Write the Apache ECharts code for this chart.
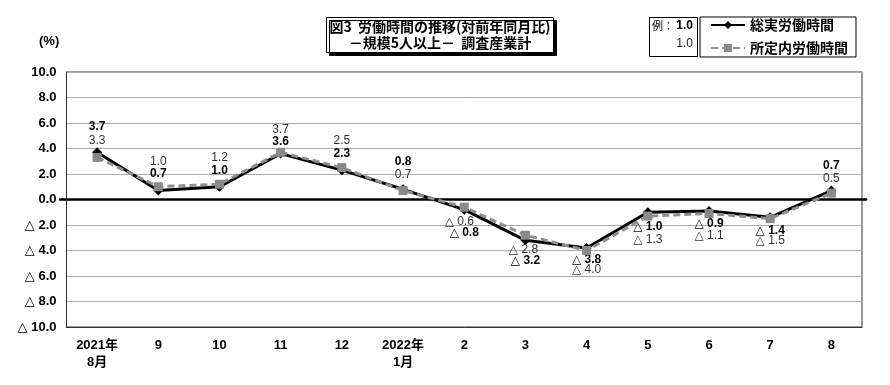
<!DOCTYPE html>
<html><head><meta charset="utf-8">
<script src="https://cdn.jsdelivr.net/npm/echarts@6/dist/echarts.min.js"></script>
<style>html,body{margin:0;padding:0;background:#fff}#c{width:890px;height:385px}</style>
</head><body><div id="c"></div>
<script>
// ---- data ----
const categories = ['2021年\n8月','9','10','11','12','2022年\n1月','2','3','4','5','6','7','8'];
const totalHours = [3.7, 0.7, 1.0, 3.6, 2.3, 0.8, -0.8, -3.2, -3.8, -1.0, -0.9, -1.4, 0.7];
const scheduledHours = [3.3, 1.0, 1.2, 3.7, 2.5, 0.7, -0.6, -2.8, -4.0, -1.3, -1.1, -1.5, 0.5];
const yTicks = [-10, -8, -6, -4, -2, 0, 2, 4, 6, 8, 10];
const seriesNames = ['総実労働時間', '所定内労働時間'];

// ---- label placement (styling) ----
const totalLabelDy = [-26, -17, -16, -12, -16, -28, 23, 20, 12, 14, 13, 13, -25];
const schedLabelDy = [-17, -25, -27, -23, -27, -16, 15, 14, 19, 24, 22, 22, -14];
const schedLabelDx = [0, 0, 0, 0, 0, 0, -5, -2, 0, 0, 0, 0, 0];

const fmt = v => v < 0 ? '△ ' + Math.abs(v).toFixed(1) : v.toFixed(1);
const NUMFONT = "'Liberation Sans Narrow','Liberation Sans','DejaVu Sans','Noto Sans CJK JP',sans-serif";
const JPFONT = "'Noto Sans CJK JP',sans-serif";

const chart = echarts.init(document.getElementById('c'));
chart.setOption({
  animation: false,
  backgroundColor: '#fff',
  title: {
    text: '図3  労働時間の推移(対前年同月比)\n－規模5人以上－  調査産業計',
    left: 437, top: 17,
    textAlign: 'center',
    padding: [2, 3, 2, 3],
    borderColor: '#000', borderWidth: 1,
    backgroundColor: '#fff',
    shadowColor: '#000', shadowBlur: 0, shadowOffsetX: 3, shadowOffsetY: 3,
    textStyle: { fontFamily: JPFONT, fontSize: 14, fontWeight: 'bold', color: '#000', lineHeight: 16 }
  },
  legend: {
    orient: 'vertical', left: 700, top: 17,
    padding: [1, 8, 2, 10],
    itemGap: 9,
    itemWidth: 34, itemHeight: 10,
    borderColor: '#000', borderWidth: 1,
    textStyle: { fontFamily: JPFONT, fontSize: 14, fontWeight: 'bold', color: '#000', lineHeight: 14 },
    data: seriesNames
  },
  graphic: [
    { type: 'rect', left: 649, top: 17, shape: { width: 48, height: 39 }, style: { fill: '#fff', stroke: '#000', lineWidth: 1 } },
    { type: 'text', left: 652, top: 20, style: { text: '例：', font: "11px 'Noto Sans CJK JP'", fill: '#000' } },
    { type: 'text', right: 890 - 693, top: 20, style: { text: '1.0', font: "bold 12px " + NUMFONT, fill: '#000', textAlign: 'right' } },
    { type: 'text', right: 890 - 693, top: 38, style: { text: '1.0', font: "12px " + NUMFONT, fill: '#222', textAlign: 'right' } },
    { type: 'text', left: 39, top: 35, style: { text: '(%)', font: "bold 13px 'Liberation Sans',sans-serif", fill: '#000' } }
  ],
  grid: [
    { left: 66.5, right: 28, top: 72, height: 255, show: true, borderColor: '#333', borderWidth: 1, backgroundColor: 'transparent' },
    { left: 60, right: 24, top: 72, height: 255 }
  ],
  xAxis: [
    {
      type: 'category', data: categories, gridIndex: 0, boundaryGap: true,
      axisLine: { onZero: false, lineStyle: { color: '#333', width: 1 } },
      axisTick: { show: false },
      axisLabel: { margin: 10, fontFamily: NUMFONT, fontSize: 13, fontWeight: 'bold', color: '#000', lineHeight: 17, interval: 0 }
    },
    {
      type: 'value', gridIndex: 1, min: 0, max: 1,
      axisLine: { show: true, onZero: true, lineStyle: { color: '#000', width: 2.5 } },
      axisTick: { show: false }, axisLabel: { show: false }, splitLine: { show: false }
    }
  ],
  yAxis: [
    {
      type: 'value', gridIndex: 0, min: yTicks[0], max: yTicks[yTicks.length - 1], interval: 2,
      axisLine: { show: true, lineStyle: { color: '#333' } },
      axisTick: { show: false },
      splitLine: { lineStyle: { color: '#aaa', width: 1 } },
      axisLabel: { margin: 10, formatter: v => fmt(v), fontFamily: "'Liberation Sans','DejaVu Sans','Noto Sans CJK JP',sans-serif", fontSize: 13, fontWeight: 'bold', color: '#000' }
    },
    {
      type: 'value', gridIndex: 1, min: -10, max: 10,
      axisLine: { show: false }, axisTick: { show: false }, axisLabel: { show: false }, splitLine: { show: false }
    }
  ],
  series: [
    {
      name: seriesNames[0], type: 'line', xAxisIndex: 0, yAxisIndex: 0, z: 3,
      data: totalHours.map((v, i) => ({ value: v, label: { offset: [0, totalLabelDy[i]] } })),
      symbol: 'diamond', symbolSize: 10,
      lineStyle: { color: '#000', width: 3 },
      itemStyle: { color: '#000' },
      label: { show: true, position: 'inside', formatter: p => fmt(p.value), fontFamily: NUMFONT, fontSize: 12, fontWeight: 'bold', color: '#000' }
    },
    {
      name: seriesNames[1], type: 'line', xAxisIndex: 0, yAxisIndex: 0, z: 4,
      data: scheduledHours.map((v, i) => ({ value: v, label: { offset: [schedLabelDx[i], schedLabelDy[i]] } })),
      symbol: 'rect', symbolSize: 9,
      lineStyle: { color: '#8f8f8f', width: 3, type: [7, 4] },
      itemStyle: { color: '#8a8a8a' },
      label: { show: true, position: 'inside', formatter: p => fmt(p.value), fontFamily: NUMFONT, fontSize: 12, fontWeight: 'normal', color: '#333' }
    }
  ]
});
</script></body></html>
